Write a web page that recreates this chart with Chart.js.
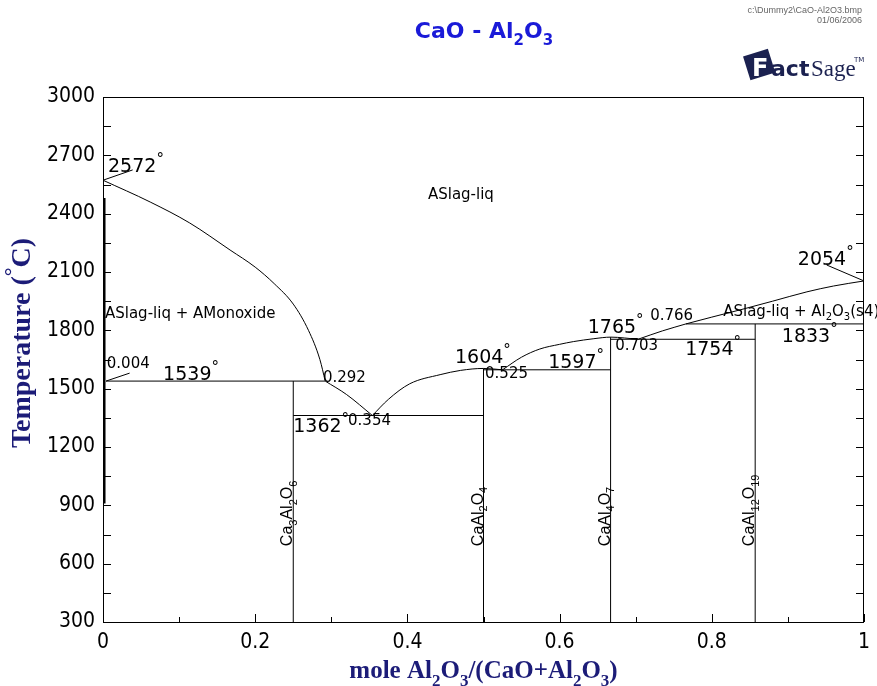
<!DOCTYPE html>
<html>
<head>
<meta charset="utf-8">
<script src="https://cdn.jsdelivr.net/npm/chart.js@4.4.1/dist/chart.umd.min.js"></script>
<style>
  body { margin: 0; background: #fff; }
  #wrap { width: 877px; height: 686px; }
</style>
</head>
<body>
<div id="wrap"><canvas id="myChart" width="877" height="686"></canvas></div>
<script>
// axis ticks
const xTicks = [0, 0.2, 0.4, 0.6, 0.8, 1];
const yTicks = [300, 600, 900, 1200, 1500, 1800, 2100, 2400, 2700, 3000];

// liquidus branches (mole fraction Al2O3, T in C)
const liqCaOx = [0, 0.062, 0.114, 0.167, 0.2, 0.225, 0.25, 0.27, 0.285, 0.292];
const liqCaOt = [2572, 2460, 2352, 2213, 2125, 2040, 1935, 1800, 1650, 1539];
const liqC3Ax = [0.292, 0.32, 0.354];
const liqC3At = [1539, 1470, 1362];
const liqCAx = [0.354, 0.375, 0.403, 0.443, 0.47, 0.5, 0.525];
const liqCAt = [1362, 1445, 1525, 1572, 1594, 1604, 1597];
const liqCA2x = [0.525, 0.55, 0.574, 0.6, 0.618, 0.645, 0.667, 0.703];
const liqCA2t = [1597, 1662, 1704, 1728, 1742, 1757, 1765, 1754];
const liqCA6x = [0.703, 0.735, 0.766];
const liqCA6t = [1754, 1797, 1833];
const liqAx = [0.766, 0.8, 0.837, 0.88, 0.925, 0.96, 1];
const liqAt = [1833, 1868, 1905, 1950, 1998, 2028, 2054];

// CaO solid solution edge
const ssX = [0.002, 0.002];
const ssT = [2480, 910];

// invariant lines: x from, x to, T
const invFrom = [0.004, 0.25, 0.5, 0.667, 0.766];
const invTo = [0.292, 0.5, 0.667, 0.857, 1];
const invT = [1539, 1362, 1597, 1754, 1833];

// stoichiometric compounds
const compX = [0.25, 0.5, 0.667, 0.857];
const compTop = [1539, 1604, 1765, 1833];
const compNames = [
  [['Ca'], ['3', 'b'], ['Al'], ['2', 'b'], ['O'], ['6', 'b']],
  [['CaAl'], ['2', 'b'], ['O'], ['4', 'b']],
  [['CaAl'], ['4', 'b'], ['O'], ['7', 'b']],
  [['CaAl'], ['12', 'b'], ['O'], ['19', 'b']]
];

// leader lines from point to label
const leaders = [
  [[0, 2572], [0.039, 2625]],
  [[0.004, 1539], [0.035, 1580]],
  [[1, 2054], [0.951, 2136]]
];

// text labels on the diagram
const deg = ['°', 'p'];
const notes = [
  { t: [['2572'], deg], x: 0.0066, y: 2614, big: true },
  { t: [['ASlag-liq']], x: 0.427, y: 2475, word: true },
  { t: [['2054'], deg], x: 0.913, y: 2136, big: true },
  { t: [['ASlag-liq + AMonoxide']], x: 0.0026, y: 1863, word: true },
  { t: [['ASlag-liq + Al'], ['2', 'b'], ['O'], ['3', 'b'], ['(s4)']], x: 0.815, y: 1874, word: true },
  { t: [['1765'], deg], x: 0.637, y: 1786, big: true },
  { t: [['0.766']], x: 0.719, y: 1853 },
  { t: [['0.703']], x: 0.673, y: 1699 },
  { t: [['1754'], deg], x: 0.765, y: 1673, big: true },
  { t: [['1833'], deg], x: 0.892, y: 1740, big: true },
  { t: [['1604'], deg], x: 0.4625, y: 1632, big: true },
  { t: [['1597'], deg], x: 0.585, y: 1606, big: true },
  { t: [['0.525']], x: 0.502, y: 1555 },
  { t: [['0.004']], x: 0.005, y: 1606 },
  { t: [['1539'], deg], x: 0.079, y: 1545, big: true },
  { t: [['0.292']], x: 0.289, y: 1534 },
  { t: [['1362'], deg], x: 0.25, y: 1277, big: true },
  { t: [['0.354']], x: 0.322, y: 1313 }
];
const compLabelT = 690;

function pts(xs, ts) {
  return xs.map((x, i) => ({ x: x, y: ts[i] }));
}

function line(data, curve) {
  return {
    data: data,
    showLine: true,
    borderColor: '#000',
    borderWidth: 1,
    pointRadius: 0,
    cubicInterpolationMode: curve ? 'monotone' : 'default',
    tension: 0
  };
}

const datasets = [
  line(pts(liqCaOx, liqCaOt), true),
  line(pts(liqC3Ax, liqC3At), true),
  line(pts(liqCAx, liqCAt), true),
  line(pts(liqCA2x, liqCA2t), true),
  line(pts(liqCA6x, liqCA6t), true),
  line(pts(liqAx, liqAt), true)
];
invT.forEach((t, i) => datasets.push(line([{ x: invFrom[i], y: t }, { x: invTo[i], y: t }])));
compX.forEach((x, i) => datasets.push(line([{ x: x, y: 300 }, { x: x, y: compTop[i] }])));
leaders.forEach(l => datasets.push(line(l.map(p => ({ x: p[0], y: p[1] })))));
const ss = line(pts(ssX, ssT));
ss.borderWidth = 2;
datasets.push(ss);

// draw text with sub/superscripts, returns width
function rich(ctx, parts, x, y, size, family, weight, draw) {
  let cx = x;
  for (const [t, m] of parts) {
    const s = m === 'p' ? Math.round(size * 0.8) : (m ? Math.round(size * 0.68) : size);
    ctx.font = weight + ' ' + s + 'px ' + family;
    const dy = m === 'b' ? size * 0.3 : (m === 'p' ? -size * 0.4 : 0);
    if (draw !== false) ctx.fillText(t, cx, y + dy);
    cx += ctx.measureText(t).width;
  }
  return cx - x;
}

const decor = {
  id: 'decor',
  afterDatasetsDraw(chart) {
    const ctx = chart.ctx;
    const a = chart.chartArea;
    const xs = chart.scales.x, ys = chart.scales.y;
    ctx.save();

    // frame
    ctx.strokeStyle = '#000';
    ctx.lineWidth = 1;
    ctx.strokeRect(a.left + 0.5, a.top + 0.5, a.right - a.left - 1, a.bottom - a.top);

    // inward ticks
    ctx.beginPath();
    for (let i = 0; i < xTicks.length; i++) {
      const p = Math.round(xs.getPixelForValue(xTicks[i])) + 0.5;
      ctx.moveTo(p, a.bottom); ctx.lineTo(p, a.bottom - 8);
      if (i < xTicks.length - 1) {
        const m = Math.round(xs.getPixelForValue((xTicks[i] + xTicks[i + 1]) / 2)) + 0.5;
        ctx.moveTo(m, a.bottom); ctx.lineTo(m, a.bottom - 5);
      }
    }
    for (let i = 0; i < yTicks.length; i++) {
      const vals = [yTicks[i]];
      if (i < yTicks.length - 1) vals.push((yTicks[i] + yTicks[i + 1]) / 2);
      for (const v of vals) {
        const p = Math.round(ys.getPixelForValue(v)) + 0.5;
        ctx.moveTo(a.left, p); ctx.lineTo(a.left + 8, p);
        ctx.moveTo(a.right, p); ctx.lineTo(a.right - 8, p);
      }
    }
    ctx.stroke();

    // labels on the diagram
    ctx.fillStyle = '#000';
    ctx.textBaseline = 'alphabetic';
    ctx.textAlign = 'left';
    for (const n of notes) {
      const px = xs.getPixelForValue(n.x), py = ys.getPixelForValue(n.y);
      if (n.word) rich(ctx, n.t, px, py, 15, '"DejaVu Sans"', 'normal');
      else if (n.big) rich(ctx, n.t, px, py, 19, '"DejaVu Sans"', 'normal');
      else rich(ctx, n.t, px, py, 15, '"DejaVu Sans"', 'normal');
    }

    // compound names, vertical
    compX.forEach((x, i) => {
      ctx.save();
      ctx.translate(xs.getPixelForValue(x) - 1, ys.getPixelForValue(compLabelT));
      ctx.rotate(-Math.PI / 2);
      rich(ctx, compNames[i], 0, 0, 16, '"Liberation Sans"', 'normal');
      ctx.restore();
    });

    // title
    const title = [['CaO - Al'], ['2', 'b'], ['O'], ['3', 'b']];
    ctx.fillStyle = '#1a1ad8';
    const tw = rich(ctx, title, 0, 0, 22, '"DejaVu Sans"', 'bold', false);
    rich(ctx, title, 484 - tw / 2, 38, 22, '"DejaVu Sans"', 'bold');

    // axis titles
    ctx.fillStyle = '#1c1c78';
    const xt = [['mole Al'], ['2', 'b'], ['O'], ['3', 'b'], ['/(CaO+Al'], ['2', 'b'], ['O'], ['3', 'b'], [')']];
    const xw = rich(ctx, xt, 0, 0, 25, '"Liberation Serif"', 'bold', false);
    rich(ctx, xt, (a.left + a.right) / 2 - xw / 2, 678, 25, '"Liberation Serif"', 'bold');
    const yt = [['Temperature ('], ['°', 'p'], ['C)']];
    const yw = rich(ctx, yt, 0, 0, 28, '"Liberation Serif"', 'bold', false);
    ctx.save();
    ctx.translate(30, 343 + yw / 2);
    ctx.rotate(-Math.PI / 2);
    rich(ctx, yt, 0, 0, 28, '"Liberation Serif"', 'bold');
    ctx.restore();

    // file stamp
    ctx.fillStyle = '#666';
    ctx.textAlign = 'right';
    ctx.font = '9px "Liberation Sans"';
    ctx.fillText('c:\\Dummy2\\CaO-Al2O3.bmp', a.right - 2, 13);
    ctx.fillText('01/06/2006', a.right - 2, 23);

    // FactSage logo
    ctx.textAlign = 'left';
    ctx.save();
    ctx.translate(759, 64);
    ctx.rotate(-0.3);
    ctx.fillStyle = '#1b2150';
    ctx.fillRect(-13, -12, 26, 25);
    ctx.restore();
    ctx.fillStyle = '#fff';
    ctx.font = 'bold 24px "DejaVu Sans"';
    ctx.fillText('F', 752, 76);
    ctx.fillStyle = '#1b2150';
    ctx.font = 'bold 22px "DejaVu Sans"';
    ctx.fillText('act', 771, 76);
    ctx.font = '23px "Liberation Serif"';
    ctx.fillText('Sage', 811, 76);
    ctx.font = '7px "DejaVu Sans"';
    ctx.fillText('TM', 854, 62);

    ctx.restore();
  }
};

const ctx = document.getElementById('myChart').getContext('2d');
const chart = new Chart(ctx, {
  type: 'scatter',
  data: { datasets: datasets },
  options: {
    responsive: false,
    animation: false,
    layout: { padding: { top: 97, right: 13, left: 0, bottom: 0 } },
    plugins: { legend: { display: false }, tooltip: { enabled: false } },
    scales: {
      x: {
        type: 'linear', min: 0, max: 1,
        grid: { display: false, drawTicks: false },
        border: { display: false },
        afterBuildTicks: s => { s.ticks = xTicks.map(v => ({ value: v })); },
        afterFit: s => { s.height = 64; s.paddingLeft = 0; s.paddingRight = 0; },
        ticks: {
          padding: 8, color: '#000', maxRotation: 0, autoSkip: false,
          font: { family: '"Liberation Sans Narrow", "DejaVu Sans Condensed"', size: 21 },
          callback: v => String(v)
        }
      },
      y: {
        type: 'linear', min: 300, max: 3000,
        grid: { display: false, drawTicks: false },
        border: { display: false },
        afterBuildTicks: s => { s.ticks = yTicks.map(v => ({ value: v })); },
        afterFit: s => { s.width = 103; s.paddingTop = 0; s.paddingBottom = 0; },
        ticks: {
          padding: 8, color: '#000', autoSkip: false,
          font: { family: '"Liberation Sans Narrow", "DejaVu Sans Condensed"', size: 21 },
          callback: v => String(v)
        }
      }
    }
  },
  plugins: [decor]
});
</script>
</body>
</html>
